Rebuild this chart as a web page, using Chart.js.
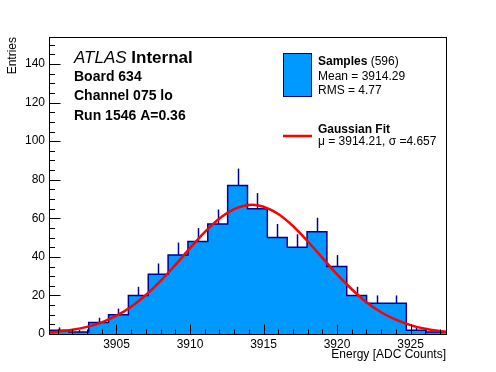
<!DOCTYPE html>
<html>
<head>
<meta charset="utf-8">
<script src="https://cdn.jsdelivr.net/npm/chart.js@4.4.1/dist/chart.umd.min.js"></script>
<style>
html,body{margin:0;padding:0;background:#fff;}
#wrap{width:496px;height:372px;}
</style>
</head>
<body>
<div id="wrap"><canvas id="c" width="496" height="372"></canvas></div>
<script>
// ---- data ----
const binLow = 3900.41;
const binWidth = 1.35;
const counts = [2, 1, 6, 10, 20, 31, 41, 48, 57, 77, 65, 50, 45, 53, 35, 20, 16, 16, 2, 1];
const fitX = [3900.41, 3901, 3902, 3903, 3904, 3905, 3906, 3907, 3908, 3909, 3910, 3911, 3912, 3913, 3914, 3914.21, 3915, 3916, 3917, 3918, 3919, 3920, 3921, 3922, 3923, 3924, 3925, 3926, 3927, 3927.41];
const fitY = [0.82, 1.20, 2.16, 3.70, 6.06, 9.48, 14.17, 20.2, 27.5, 35.8, 44.5, 52.8, 59.9, 64.8, 66.9, 67.0, 66.0, 62.2, 56.0, 48.1, 39.5, 30.9, 23.2, 16.5, 11.3, 7.4, 4.6, 2.7, 1.5, 1.2];
const xTicks = [3905, 3910, 3915, 3920, 3925];
const yTicks = [0, 20, 40, 60, 80, 100, 120, 140];
const xMin = 3900.41, xMax = 3927.41;
const yMin = 0, yMax = 154;
const xTitle = "Energy [ADC Counts]";
const yTitle = "Entries";
const infoLines = ["Board 634", "Channel 075 lo", "Run 1546 A=0.36"];
const legendStats = ["Mean = 3914.29", "RMS = 4.77"];
const fitLabel = "\u03bc = 3914.21, \u03c3 =4.657";
const nEntries = 596;

// ---- styles ----
const FILL = '#0099ff';
const EDGE = '#000099';
const RED = '#ff0000';
const FONT = '"Liberation Sans", Arial, Helvetica, sans-serif';

const histPts = [];
for (let i = 0; i <= counts.length; i++) {
  histPts.push({x: binLow + i * binWidth, y: counts[Math.min(i, counts.length - 1)]});
}
const fitPts = fitX.map((x, i) => ({x: x, y: fitY[i]}));

const rootPlugin = {
  id: 'rootStyle',
  afterDatasetDraw(chart, args) {
    if (chart.data.datasets[args.index].label === 'Samples') {
      const ctx = chart.ctx, xs = chart.scales.x, ys = chart.scales.y;
      ctx.save();
      ctx.strokeStyle = EDGE;
      ctx.lineWidth = 1.5;
      counts.forEach((c, i) => {
        const px = Math.round(xs.getPixelForValue(binLow + (i + 0.5) * binWidth)) + 0.5;
        const y0 = ys.getPixelForValue(c);
        const y1 = ys.getPixelForValue(c + Math.sqrt(c));
        ctx.beginPath(); ctx.moveTo(px, y0); ctx.lineTo(px, y1); ctx.stroke();
      });
      ctx.restore();
    }
  },
  afterDraw(chart) {
    const ctx = chart.ctx, a = chart.chartArea, xs = chart.scales.x, ys = chart.scales.y;
    ctx.save();
    // frame
    ctx.strokeStyle = '#000';
    ctx.lineWidth = 1;
    const L = Math.round(a.left) + 0.5, R = Math.round(a.right) + 0.5;
    const T = Math.round(a.top) + 0.5, B = Math.round(a.bottom) + 0.5;
    ctx.strokeRect(L, T, R - L, B - T);
    // x ticks
    ctx.beginPath();
    for (let v = Math.ceil(xMin); v <= xMax; v++) {
      const px = Math.round(xs.getPixelForValue(v)) + 0.5;
      const len = (v % 5 === 0) ? 10 : 5;
      ctx.moveTo(px, B); ctx.lineTo(px, B - len);
    }
    // y ticks
    for (let v = yMin; v <= yMax; v += 5) {
      const py = Math.round(ys.getPixelForValue(v)) + 0.5;
      const len = (v % 20 === 0) ? 11 : 5.5;
      ctx.moveTo(L, py); ctx.lineTo(L + len, py);
    }
    ctx.stroke();

    // axis titles
    ctx.fillStyle = '#000';
    ctx.font = '12px ' + FONT;
    ctx.textAlign = 'right';
    ctx.textBaseline = 'alphabetic';
    ctx.fillText(xTitle, a.right, 358);
    ctx.save();
    ctx.translate(16, a.top);
    ctx.rotate(-Math.PI / 2);
    ctx.textAlign = 'right';
    ctx.fillText(yTitle, 0, 0);
    ctx.restore();

    // ATLAS label
    ctx.textAlign = 'left';
    ctx.font = 'italic 17px ' + FONT;
    ctx.fillText('ATLAS', 74, 63);
    const w = ctx.measureText('ATLAS ').width;
    ctx.font = 'bold 17px ' + FONT;
    ctx.fillText('Internal', 74 + w, 63);
    ctx.font = 'bold 14px ' + FONT;
    const bases = [80.5, 100, 119.5];
    infoLines.forEach((t, i) => ctx.fillText(t, 74, bases[i]));

    // legend
    ctx.fillStyle = FILL;
    ctx.fillRect(283.5, 53.5, 28, 43);
    ctx.strokeStyle = EDGE;
    ctx.lineWidth = 1;
    ctx.strokeRect(283.5, 53.5, 28, 43);
    ctx.fillStyle = '#000';
    ctx.font = 'bold 12px ' + FONT;
    ctx.fillText('Samples', 318, 65);
    const ws = ctx.measureText('Samples').width;
    ctx.font = '12px ' + FONT;
    ctx.fillText(' (' + nEntries + ')', 318 + ws, 65);
    ctx.fillText(legendStats[0], 318, 80);
    ctx.fillText(legendStats[1], 318, 93.5);
    ctx.strokeStyle = RED;
    ctx.lineWidth = 2.5;
    ctx.beginPath(); ctx.moveTo(283, 136); ctx.lineTo(312, 136); ctx.stroke();
    ctx.font = 'bold 12px ' + FONT;
    ctx.fillText('Gaussian Fit', 318, 132.5);
    ctx.font = '12px ' + FONT;
    ctx.fillText(fitLabel, 318, 144.5);
    ctx.restore();
  }
};

new Chart(document.getElementById('c'), {
  type: 'line',
  data: {
    datasets: [
      {
        label: 'Gaussian Fit',
        data: fitPts,
        borderColor: RED,
        borderWidth: 2.5,
        pointRadius: 0,
        fill: false,
        cubicInterpolationMode: 'monotone',
        order: 1
      },
      {
        label: 'Samples',
        data: histPts,
        stepped: 'before',
        borderColor: EDGE,
        borderWidth: 1.5,
        backgroundColor: FILL,
        fill: 'origin',
        pointRadius: 0,
        order: 2
      }
    ]
  },
  options: {
    responsive: false,
    animation: false,
    devicePixelRatio: 1,
    layout: {padding: {top: 37, right: 50, left: 0, bottom: 0}},
    plugins: {legend: {display: false}, tooltip: {enabled: false}, title: {display: false}},
    scales: {
      x: {
        type: 'linear', min: xMin, max: xMax,
        grid: {display: false, drawTicks: false},
        border: {display: false},
        afterBuildTicks: s => { s.ticks = xTicks.map(v => ({value: v})); },
        afterFit: s => { s.height = 38; },
        ticks: {color: '#000', font: {family: FONT, size: 12}, padding: 3, maxRotation: 0, autoSkip: false,
                callback: v => String(v)}
      },
      y: {
        type: 'linear', min: yMin, max: yMax,
        grid: {display: false, drawTicks: false},
        border: {display: false},
        afterBuildTicks: s => { s.ticks = yTicks.map(v => ({value: v})); },
        afterFit: s => { s.width = 49; },
        ticks: {color: '#000', font: {family: FONT, size: 12}, padding: 4, callback: v => String(v)}
      }
    }
  },
  plugins: [rootPlugin]
});
</script>
</body>
</html>
